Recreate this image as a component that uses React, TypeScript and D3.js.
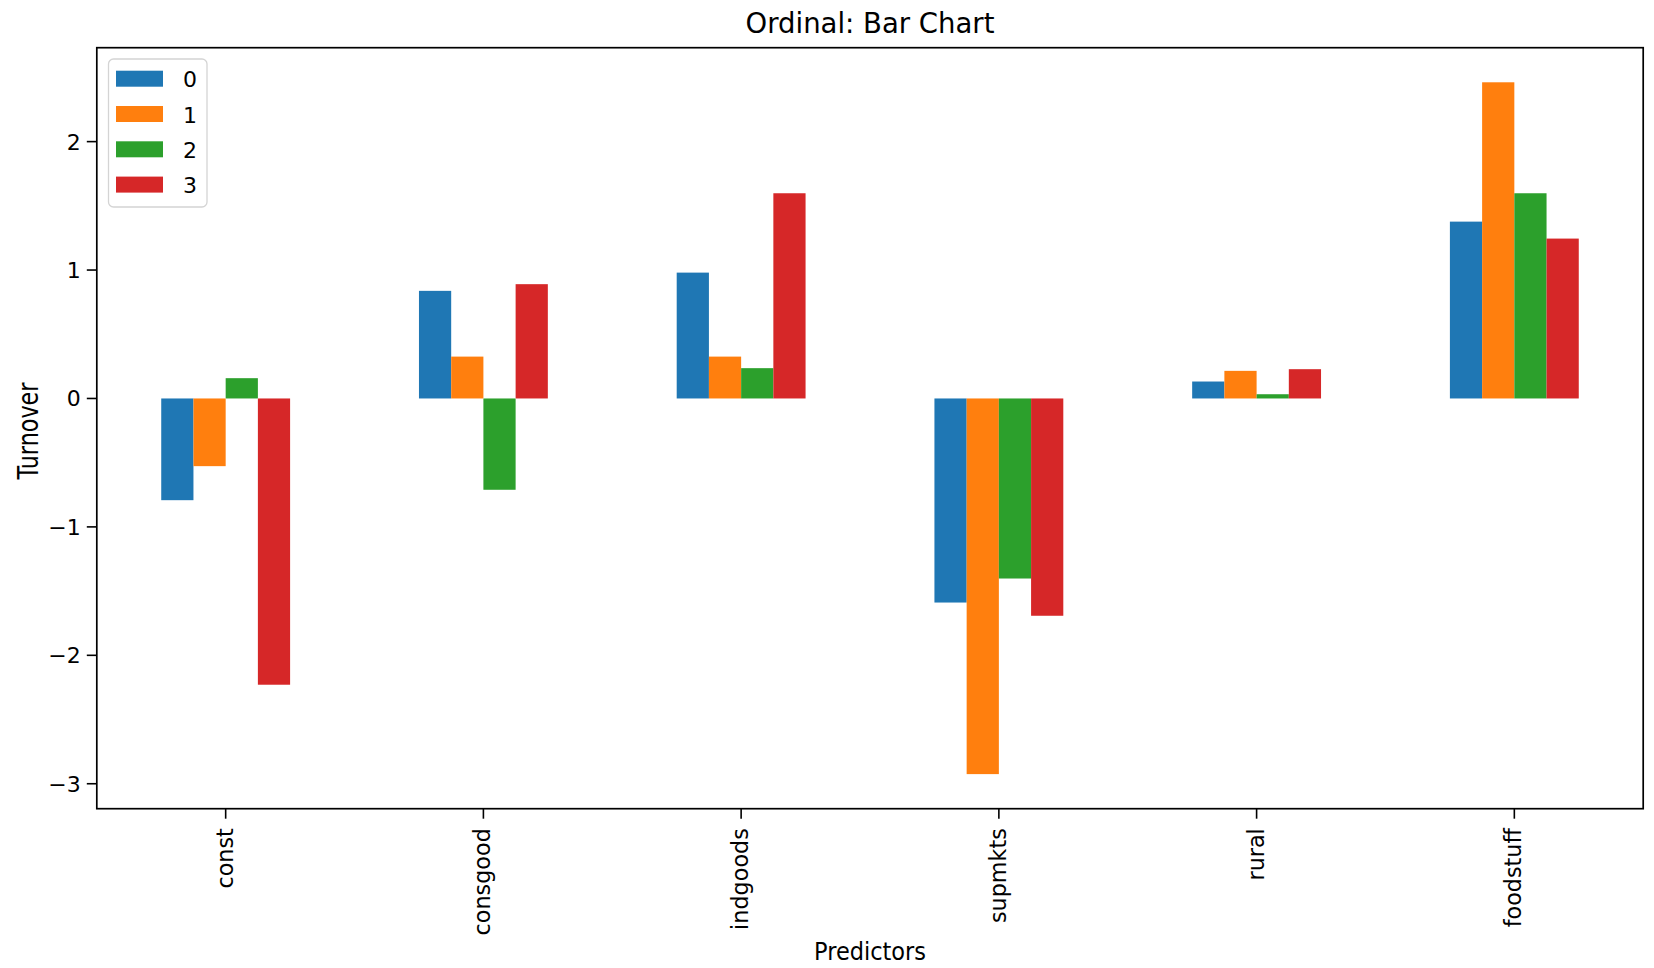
import React from "react";
import * as d3 from "d3";

const categories = ["const", "consgood", "indgoods", "supmkts", "rural", "foodstuff"];
const seriesNames = ["0", "1", "2", "3"];
const series0 = [-0.792, 0.838, 0.98, -1.589, 0.132, 1.377];
const series1 = [-0.527, 0.326, 0.326, -2.925, 0.215, 2.462];
const series2 = [0.158, -0.711, 0.236, -1.402, 0.033, 1.598];
const series3 = [-2.229, 0.89, 1.598, -1.692, 0.228, 1.245];
const seriesValues = [series0, series1, series2, series3];
const colors = ["#1f77b4", "#ff7f0e", "#2ca02c", "#d62728"];
const yTicks = [-3, -2, -1, 0, 1, 2];

const W = 1654;
const H = 968;
const left = 96.8;
const right = 1643.2;
const top = 47.7;
const bottom = 808.7;
const FONT = "DejaVu Sans, Liberation Sans, sans-serif";

export default function App() {
  const all = seriesValues.flat();
  const mn = Math.min(0, d3.min(all) as number);
  const mx = Math.max(0, d3.max(all) as number);
  const pad = (mx - mn) * 0.05;
  const y = d3.scaleLinear().domain([mn - pad, mx + pad]).range([bottom, top]);
  const x = d3.scaleLinear().domain([-0.5, categories.length - 0.5]).range([left, right]);
  const barW = 0.5 / seriesNames.length;
  const fmt = (v: number) => (v < 0 ? "\u2212" + Math.abs(v) : String(v));

  return (
    <svg
      width={W}
      height={H}
      style={{ position: "absolute", left: 0, top: 0, background: "#fff" }}
      fontFamily={FONT}
    >
      <rect x={0} y={0} width={W} height={H} fill="#fff" />
      {/* bars */}
      {seriesValues.map((vals, j) =>
        vals.map((v, i) => {
          const c = i + (j - (seriesNames.length - 1) / 2) * barW;
          const x0 = x(c - barW / 2);
          const x1 = x(c + barW / 2);
          const y0 = y(Math.max(0, v));
          const y1 = y(Math.min(0, v));
          return (
            <rect
              key={`${j}-${i}`}
              x={x0}
              y={y0}
              width={x1 - x0}
              height={Math.max(0.5, y1 - y0)}
              fill={colors[j]}
            />
          );
        })
      )}
      {/* frame */}
      <rect x={left} y={top} width={right - left} height={bottom - top} fill="none" stroke="#000" strokeWidth={1.7} />
      {/* y ticks */}
      {yTicks.map((t) => (
        <g key={t}>
          <line x1={left - 10} x2={left} y1={y(t)} y2={y(t)} stroke="#000" strokeWidth={1.6} />
          <text x={left - 16} y={y(t)} dy="0.36em" textAnchor="end" fontSize={22} fill="#000">
            {fmt(t)}
          </text>
        </g>
      ))}
      {/* x ticks */}
      {categories.map((cat, i) => (
        <g key={cat}>
          <line x1={x(i)} x2={x(i)} y1={bottom} y2={bottom + 10} stroke="#000" strokeWidth={1.6} />
          <text
            transform={`translate(${x(i) - 0.5},${bottom + 19.5}) rotate(-90)`}
            textAnchor="end"
            dy="0.34em"
            fontSize={22.3}
            fill="#000"
          >
            {cat}
          </text>
        </g>
      ))}
      {/* axis labels */}
      <text
        x={(left + right) / 2}
        y={960}
        textAnchor="middle"
        fontSize={24}
        textLength={112}
        lengthAdjust="spacingAndGlyphs"
        fill="#000"
      >
        Predictors
      </text>
      <text
        transform={`translate(37.5,431) rotate(-90)`}
        textAnchor="middle"
        fontSize={28}
        textLength={97}
        lengthAdjust="spacingAndGlyphs"
        fill="#000"
      >
        Turnover
      </text>
      {/* title */}
      <text x={(left + right) / 2} y={33} textAnchor="middle" fontSize={27.5} fill="#000">
        Ordinal: Bar Chart
      </text>
      {/* legend */}
      <rect x={108.5} y={59} width={98.5} height={148} rx={5} fill="#fff" fillOpacity={0.8} stroke="#d4d4d4" strokeWidth={1.3} />
      {seriesNames.map((name, j) => (
        <g key={name}>
          <rect x={116} y={70.7 + j * 35.3} width={47} height={16} fill={colors[j]} />
          <text x={183} y={87.3 + j * 35.3} fontSize={22} fill="#000">
            {name}
          </text>
        </g>
      ))}
    </svg>
  );
}
